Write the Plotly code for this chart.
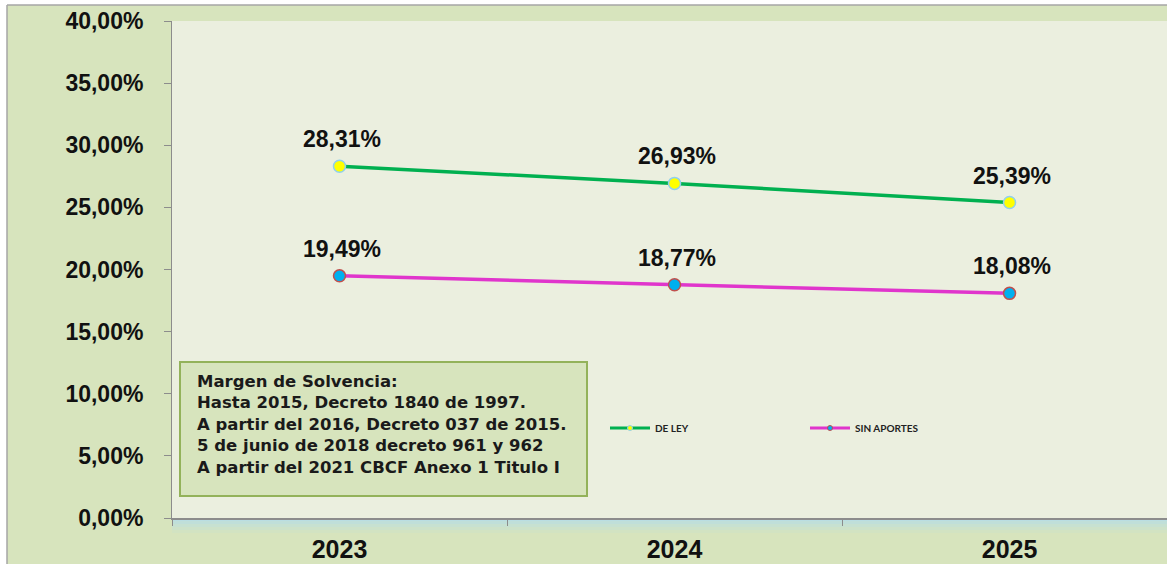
import plotly.graph_objects as go

years = ["2023", "2024", "2025"]
de_ley = [0.2831, 0.2693, 0.2539]
sin_aportes = [0.1949, 0.1877, 0.1808]
ytick_vals = [0.0, 0.05, 0.10, 0.15, 0.20, 0.25, 0.30, 0.35, 0.40]
note_lines = [
    "Margen de Solvencia:",
    "Hasta 2015, Decreto 1840 de 1997.",
    "A partir del 2016, Decreto 037 de 2015.",
    "5 de junio de 2018 decreto 961 y 962",
    "A partir del 2021 CBCF Anexo 1 Titulo I",
]


def pct(v):
    return f"{v*100:.2f}%".replace(".", ",")


W, H = 1167, 564
L, R, T, B = 172, 0, 21, 46
PW, PH = W - L - R, H - T - B


def px(x):
    return (x - L) / PW


def py(y):
    return (H - B - y) / PH


fig = go.Figure()
fig.add_trace(go.Scatter(
    x=years, y=de_ley, name="DE LEY", mode="lines+markers", showlegend=False,
    line=dict(color="#00b050", width=3.5),
    marker=dict(size=12, color="#ffff00", line=dict(color="#8fd0ee", width=1.5)),
))
fig.add_trace(go.Scatter(
    x=years, y=sin_aportes, name="SIN APORTES", mode="lines+markers", showlegend=False,
    line=dict(color="#e035cc", width=3.5),
    marker=dict(size=12, color="#00b0f0", line=dict(color="#c0504d", width=1.5)),
))
# legend entries (small markers as in the original legend)
fig.add_trace(go.Scatter(
    x=[None], y=[None], name="<b>DE LEY</b>", mode="lines+markers",
    line=dict(color="#00b050", width=3),
    marker=dict(size=5, color="#ffff00", line=dict(color="#8fd0ee", width=1)),
))
fig.add_trace(go.Scatter(
    x=[None], y=[None], name="<b>SIN APORTES</b>", mode="lines+markers",
    line=dict(color="#e035cc", width=3),
    marker=dict(size=5, color="#00b0f0", line=dict(color="#c0504d", width=1)),
))

for series in (de_ley, sin_aportes):
    for i, v in enumerate(series):
        fig.add_annotation(x=i, y=v, text=f"<b>{pct(v)}</b>", showarrow=False,
                           yshift=27, xshift=2,
                           font=dict(family="Liberation Sans, Arial", size=23, color="#111"))

# note box
fig.add_shape(type="rect", xref="paper", yref="paper",
              x0=px(180), x1=px(587), y0=py(496), y1=py(362),
              fillcolor="#d7e4bd", line=dict(color="#93b25a", width=2), layer="above")
fig.add_annotation(xref="paper", yref="paper", x=px(195), y=py(424.5),
                   xanchor="left", yanchor="middle", align="left", showarrow=False,
                   text="<br>".join(f"<b>{t}</b>" for t in note_lines),
                   font=dict(family="DejaVu Sans", size=16.5, color="#1a1a1a"))

# outer frame: white margins + gray border
fig.add_shape(type="rect", xref="paper", yref="paper",
              x0=px(-5), x1=px(7), y0=py(570), y1=py(-5),
              fillcolor="white", line=dict(width=0), layer="below")
fig.add_shape(type="rect", xref="paper", yref="paper",
              x0=px(-5), x1=px(1175), y0=py(5), y1=py(-5),
              fillcolor="white", line=dict(width=0), layer="below")
fig.add_shape(type="line", xref="paper", yref="paper",
              x0=px(7), x1=px(7), y0=py(570), y1=py(5),
              line=dict(color="#a6a6a6", width=1.5))
fig.add_shape(type="line", xref="paper", yref="paper",
              x0=px(7), x1=px(1175), y0=py(5), y1=py(5),
              line=dict(color="#a6a6a6", width=1.5))
# light blue strip beneath the axis
for a, op in [(0, 0.9), (3, 0.7), (6, 0.5), (9, 0.3), (12, 0.12)]:
    fig.add_shape(type="rect", xref="paper", yref="paper",
                  x0=0, x1=1, y0=py(518 + a + 3), y1=py(518 + a),
                  fillcolor="#b7dde6", opacity=op, line=dict(width=0), layer="below")

fig.update_layout(
    width=W, height=H,
    margin=dict(l=L, r=R, t=T, b=B),
    paper_bgcolor="#d7e4bd",
    plot_bgcolor="#ebefdf",
    separators=",.",
    showlegend=True,
    legend=dict(orientation="h", x=px(605), y=py(428), xanchor="left", yanchor="middle",
                bgcolor="rgba(0,0,0,0)", entrywidth=145, entrywidthmode="pixels",
                font=dict(family="Lato", size=10, color="#222"),
                itemwidth=40, tracegroupgap=0),
    xaxis=dict(type="category", range=[-0.5, 2.47], showgrid=False,
               showline=True, linecolor="#8c8c8c", linewidth=2,
               ticks="outside", tickson="boundaries", ticklen=6, tickcolor="#8c8c8c",
               ticklabelstandoff=8,
               tickfont=dict(family="Liberation Sans, Arial", size=25, color="#111"),
               tickprefix="<b>", ticksuffix="</b>", zeroline=False),
    yaxis=dict(range=[0, 0.4], showgrid=False, zeroline=False,
               showline=True, linecolor="#8c8c8c", linewidth=1,
               ticks="outside", ticklen=7, tickcolor="#8c8c8c",
               tickvals=ytick_vals, ticktext=[f"<b>{pct(v)}</b>" for v in ytick_vals],
               ticklabelstandoff=16,
               tickfont=dict(family="Liberation Sans, Arial", size=23, color="#111")),
)

fig.write_html("out.html", config={"displayModeBar": False},
               post_script="document.body.style.margin='0';document.body.style.overflow='hidden';")
